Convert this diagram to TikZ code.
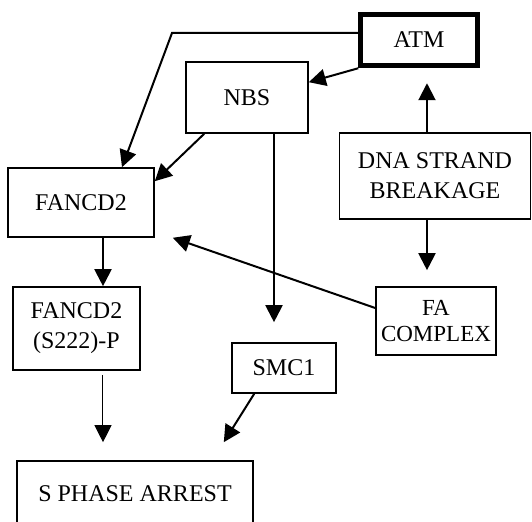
\documentclass[tikz,border=0pt]{standalone}
\usepackage{fontspec}
\setmainfont{Liberation Serif}
\usetikzlibrary{arrows.meta}
\tikzstyle{box} = [draw, rectangle, line width=.8pt, align=center, inner sep=2pt, font=\fontsize{12}{15}\selectfont]
\tikzstyle{thickbox} = [box, line width=2.5pt]
\tikzstyle{link} = [->, line width=1pt]

\begin{document}
\begin{tikzpicture}[x=.5pt, y=-.5pt, >={Triangle[length=8.5pt,width=8.5pt]}]
    \useasboundingbox (0,0) rectangle (532,522);
    \clip (0,0) rectangle (532,522);
    \draw (419,40) node[thickbox, minimum width=58.25pt, minimum height=25.75pt] (atm) {ATM};
    \draw (247,97.5) node[box, minimum width=61pt, minimum height=35.5pt] (nbs) {NBS};
    \draw (435,176) node[box, minimum width=95.5pt, minimum height=43pt] (dna) {DNA STRAND\\BREAKAGE};
    \draw (81,202.5) node[box, minimum width=73pt, minimum height=34.5pt] (fancd2) {FANCD2};
    \draw (76.5,328.5) node[box, minimum width=63.5pt, minimum height=41.5pt] (fp) {FANCD2\\(S222)-P};
    \draw (284,368) node[box, minimum width=52pt, minimum height=25pt] (smc1) {SMC1};
    \draw (436,321) node[box, minimum width=60pt, minimum height=34pt, font=\fontsize{11.5}{13}\selectfont] (fa) {FA\\COMPLEX};
    \draw (135,494) node[box, minimum width=118pt, minimum height=33pt] (sp) {S PHASE ARREST};
    \draw [link] ([yshift=3.5pt]atm.west) -- (172,33) -- ([xshift=20.5pt]fancd2.north);
    \draw [link] (atm.south west) -- ([yshift=-10.5pt]nbs.north east);
    \draw [link] ([xshift=9.5pt]nbs.south west) -- ([yshift=-7pt]fancd2.north east);
    \draw [link] ([xshift=13.5pt]nbs.south) -- ([xshift=-5pt,yshift=10pt]smc1.north);
    \draw [link] ([xshift=-4pt]dna.north) -- ([xshift=4pt,yshift=-7.5pt]atm.south);
    \draw [link] ([xshift=-4pt]dna.south) -- ([xshift=-4.5pt,yshift=8pt]fa.north);
    \draw [link] ([yshift=6.5pt]fa.west) -- ([xshift=9pt]fancd2.south east);
    \draw [link] ([xshift=11pt]fancd2.south) -- ([xshift=13.25pt]fp.north);
    \draw [->, line width=.5pt] ([xshift=13.25pt,yshift=-2pt]fp.south) -- ([xshift=-16pt,yshift=9pt]sp.north);
    \draw [link] ([xshift=11.5pt]smc1.south west) -- ([xshift=-15pt,yshift=9pt]sp.north east);
\end{tikzpicture}
\end{document}
